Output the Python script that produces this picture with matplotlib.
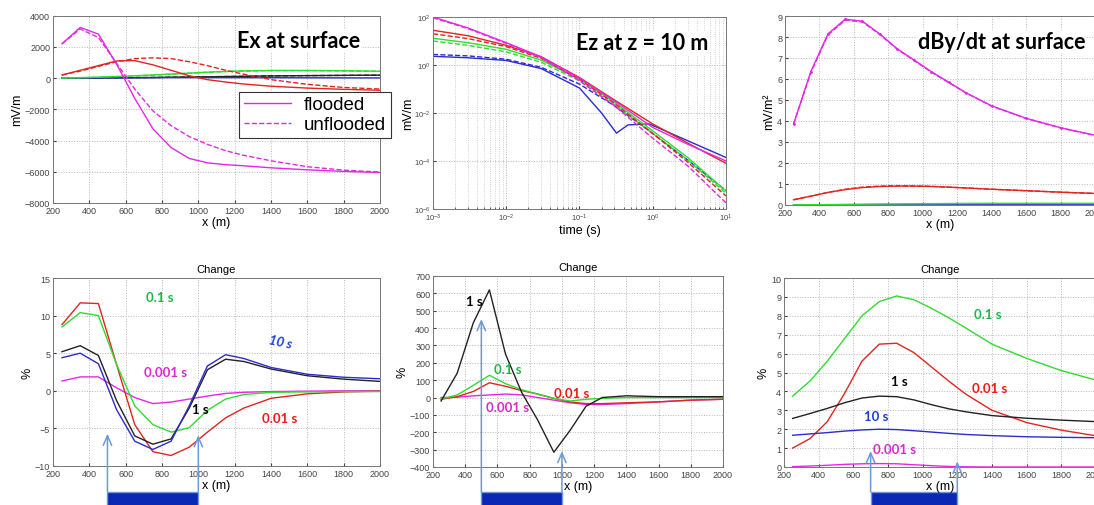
import matplotlib
matplotlib.use('Agg')
import matplotlib.pyplot as plt
from matplotlib.patches import Rectangle

plt.rcParams['font.family'] = ['Liberation Sans', 'DejaVu Sans']

# receiver offsets (m)
x_m = [250, 350, 450, 550, 650, 750, 850, 950, 1050, 1150, 1250, 1400, 1600, 1800, 2000]

# Ex at surface (mV/m), flooded / unflooded
ex_mag_fl = [2200, 3250, 2820, 900, -1300, -3250, -4450, -5150, -5430, -5550, -5620, -5750, -5880, -5980, -6050]
ex_mag_un = [2200, 3150, 2600, 950, -700, -2100, -3050, -3750, -4250, -4650, -4950, -5300, -5680, -5900, -6020]
ex_red_fl = [200, 500, 800, 1100, 1120, 850, 500, 150, -100, -250, -380, -520, -640, -720, -780]
ex_red_un = [200, 450, 750, 1050, 1250, 1300, 1250, 1050, 800, 500, 250, -100, -400, -600, -700]
ex_grn_fl = [10, 30, 60, 100, 150, 200, 260, 320, 380, 430, 460, 490, 490, 470, 440]
ex_grn_un = [10, 25, 55, 95, 140, 190, 250, 310, 370, 420, 450, 480, 480, 460, 430]
ex_blu = [0, 5, 10, 15, 20, 25, 30, 30, 30, 30, 30, 25, 20, 15, 10]
ex_blk = [0, 5, 10, 20, 30, 40, 55, 70, 85, 100, 115, 140, 160, 175, 190]

# Ez at z = 10 m vs time (mV/m)
t_s = [1e-3, 3e-3, 1e-2, 3e-2, 0.1, 0.3, 1, 3, 10]
ez_mag_fl = [100, 35, 8.5, 2.2, 0.28, 0.032, 2.5e-3, 5e-4, 1e-4]
ez_mag_un = [93, 33, 7.9, 2.0, 0.22, 0.02, 8.9e-4, 6.3e-5, 1.8e-6]
ez_red_fl = [28, 16.6, 6.6, 2.2, 0.30, 0.035, 3.5e-3, 5.6e-4, 8e-5]
ez_red_un = [20, 12.6, 5.8, 1.9, 0.25, 0.025, 1.4e-3, 9e-5, 3.5e-6]
ez_grn_fl = [13, 8.5, 4.5, 1.6, 0.26, 0.028, 1.8e-3, 1.4e-4, 5.6e-6]
ez_grn_un = [10, 6.6, 3.5, 1.3, 0.22, 0.022, 1.4e-3, 1.1e-4, 4.5e-6]
ez_blu_un = [2.75, 2.4, 1.74, 0.8, 0.16, 0.02, 1.4e-3, 1.1e-4, 5.8e-6]
t_blu = [1e-3, 3e-3, 1e-2, 3e-2, 0.1, 0.2, 0.32, 0.46, 0.9, 3, 10]
ez_blu_fl = [2.3, 2.0, 1.55, 0.71, 0.11, 0.01, 1.45e-3, 3.2e-3, 3.5e-3, 7e-4, 1.4e-4]

# dBy/dt at surface
db_mag_fl = [3.85, 6.35, 8.15, 8.85, 8.75, 8.15, 7.45, 6.9, 6.35, 5.85, 5.35, 4.72, 4.13, 3.68, 3.32]
db_mag_un = [3.85, 6.3, 8.1, 8.8, 8.72, 8.12, 7.43, 6.88, 6.33, 5.83, 5.34, 4.71, 4.12, 3.67, 3.31]
db_red_fl = [0.25, 0.42, 0.6, 0.73, 0.83, 0.88, 0.9, 0.9, 0.88, 0.85, 0.81, 0.75, 0.68, 0.61, 0.55]
db_red_un = [0.25, 0.42, 0.6, 0.75, 0.85, 0.9, 0.92, 0.91, 0.89, 0.85, 0.81, 0.75, 0.68, 0.61, 0.55]
db_grn = [0.01, 0.015, 0.02, 0.03, 0.04, 0.05, 0.055, 0.06, 0.065, 0.07, 0.075, 0.08, 0.08, 0.08, 0.08]
db_blu = [0.005, 0.005, 0.006, 0.006, 0.007, 0.007, 0.008, 0.008, 0.008, 0.008, 0.008, 0.008, 0.008, 0.008, 0.008]

# percent change, Ex
chx_001 = [1.3, 1.85, 1.85, 0.4, -0.9, -1.7, -1.5, -1.1, -0.7, -0.35, -0.2, -0.1, -0.05, 0.0, 0.0]
chx_01 = [8.8, 11.7, 11.6, 3.5, -4.5, -8.1, -8.6, -7.5, -5.5, -3.6, -2.3, -1.0, -0.4, -0.15, -0.05]
chx_1 = [8.5, 10.4, 10.0, 3.5, -2.0, -4.5, -5.5, -4.9, -2.6, -1.1, -0.5, -0.2, -0.15, -0.1, -0.1]
chx_10 = [5.2, 6.0, 4.7, -1.3, -6.0, -7.1, -6.4, -2.3, 2.8, 4.2, 3.9, 2.9, 2.0, 1.55, 1.25]
chx_100 = [4.4, 5.0, 3.6, -2.5, -6.7, -7.8, -6.7, -2.0, 3.3, 4.8, 4.3, 3.1, 2.2, 1.8, 1.6]

# percent change, Ez
chz_001 = [0, 2, 10, 15, 20, 15, 0, -15, -30, -40, -40, -35, -25, -15, -10]
chz_01 = [-10, 5, 35, 85, 65, 40, 20, -5, -25, -35, -35, -30, -25, -15, -10]
chz_1 = [-10, 15, 70, 128, 80, 45, 20, -5, -20, -10, -5, 0, 0, 0, 0]
chz_10 = [-20, 140, 430, 620, 250, 30, -130, -315, -190, -50, 0, 10, 5, 5, 5]

# percent change, dBy/dt
chb_001 = [0.02, 0.05, 0.09, 0.14, 0.17, 0.18, 0.17, 0.12, 0.07, 0.03, 0.01, 0.0, 0.0, 0.0, 0.0]
chb_01 = [1.0, 1.5, 2.4, 3.9, 5.6, 6.5, 6.55, 6.05, 5.3, 4.55, 3.85, 3.0, 2.35, 1.95, 1.65]
chb_1 = [3.75, 4.55, 5.6, 6.8, 8.0, 8.75, 9.05, 8.85, 8.4, 7.9, 7.35, 6.5, 5.75, 5.1, 4.6]
chb_10 = [2.57, 2.83, 3.1, 3.4, 3.65, 3.75, 3.72, 3.55, 3.3, 3.08, 2.92, 2.72, 2.58, 2.48, 2.4]
chb_100 = [1.68, 1.75, 1.82, 1.9, 1.96, 2.0, 1.98, 1.92, 1.85, 1.78, 1.72, 1.66, 1.6, 1.57, 1.55]

# reservoir edges (m) marked under each change plot
zone_x = [500, 1000]
zone_x_db = [700, 1200]

MAG = '#e626e6'
RED = '#e3241f'
GRN = '#30dc30'
BLU = '#2b2bcf'
BLK = '#222222'
ARR = '#6f98d8'
BOX = '#0a28b4'
LW = 1.0


def style(ax):
    ax.grid(True, which='major', linestyle=':', color='#b8b8b8', linewidth=0.7)
    ax.tick_params(direction='in', labelsize=6.5, length=2.5, colors='#444444', pad=2)
    for s in ax.spines.values():
        s.set_color('#777777')
        s.set_linewidth(0.7)


def big_title(ax, xr, txt):
    ax.text(xr, 0.865, txt, transform=ax.transAxes, ha='right', va='center',
            family='Lato', weight='bold', fontsize=15.5, color='black',
            bbox=dict(facecolor='white', edgecolor='none', pad=1))


def lbl(ax, x, y, txt, c, **kw):
    ax.text(x, y, txt, color=c, family='Lato', weight='bold', fontsize=9.5,
            ha='center', va='center', **kw)


def zone(ax, xs, tips, yfrac):
    ax.add_patch(Rectangle((xs[0], yfrac - 0.2), xs[1] - xs[0], 0.2, transform=ax.get_xaxis_transform(),
                           facecolor=BOX, edgecolor=ARR, lw=1.0, clip_on=False))
    for xv, tip in zip(xs, tips):
        ax.annotate('', xy=(xv, tip), xycoords='data', xytext=(xv, yfrac), textcoords=('data', 'axes fraction'),
                    arrowprops=dict(arrowstyle='->,head_length=0.7,head_width=0.3', color=ARR, lw=1.1,
                                    shrinkA=0, shrinkB=0), annotation_clip=False)


fig = plt.figure(figsize=(10.94, 5.06), dpi=100)

# ---- Ex at surface ----
ax1 = fig.add_axes([0.0484, 0.597, 0.299, 0.370])
ax1.plot(x_m, ex_blk, color=BLK, lw=LW)
ax1.plot(x_m, ex_blk, color=BLK, lw=LW, ls='--')
ax1.plot(x_m, ex_blu, color=BLU, lw=LW)
ax1.plot(x_m, ex_grn_fl, color=GRN, lw=LW)
ax1.plot(x_m, ex_grn_un, color=GRN, lw=LW, ls='--')
ax1.plot(x_m, ex_red_fl, color=RED, lw=LW)
ax1.plot(x_m, ex_red_un, color=RED, lw=LW, ls='--')
h1, = ax1.plot(x_m, ex_mag_fl, color=MAG, lw=LW)
h2, = ax1.plot(x_m, ex_mag_un, color=MAG, lw=LW, ls='--')
ax1.set_xlim(200, 2000)
ax1.set_ylim(-8000, 4000)
ax1.set_xticks(range(200, 2001, 200))
ax1.set_yticks(range(-8000, 4001, 2000))
ax1.set_xlabel('x (m)', fontsize=9, labelpad=1)
ax1.set_ylabel('mV/m', fontsize=9, labelpad=1)
style(ax1)
big_title(ax1, 0.94, 'Ex at surface')
leg = ax1.legend([h1, h2], ['flooded', 'unflooded'], loc='lower left',
                 bbox_to_anchor=(239 / 1094, 1 - 139 / 506), bbox_transform=fig.transFigure,
                 borderaxespad=0, fontsize=13.5, handlelength=2.5, fancybox=False, framealpha=1,
                 edgecolor='#333333', borderpad=0.25, labelspacing=0.15, handletextpad=0.7)
leg.get_frame().set_linewidth(0.8)

# ---- Ez vs time ----
ax2 = fig.add_axes([0.3958, 0.585, 0.2678, 0.3794])
ax2.loglog(t_blu, ez_blu_fl, color=BLU, lw=LW)
ax2.loglog(t_s, ez_blu_un, color=BLU, lw=LW, ls='--')
ax2.loglog(t_s, ez_grn_fl, color=GRN, lw=LW)
ax2.loglog(t_s, ez_grn_un, color=GRN, lw=LW, ls='--')
ax2.loglog(t_s, ez_red_fl, color=RED, lw=LW)
ax2.loglog(t_s, ez_red_un, color=RED, lw=LW, ls='--')
ax2.loglog(t_s, ez_mag_fl, color=MAG, lw=LW)
ax2.loglog(t_s, ez_mag_un, color=MAG, lw=LW, ls='--')
ax2.set_xlim(1e-3, 10)
ax2.set_ylim(1e-6, 1e2)
ax2.set_yticks([1e-6, 1e-4, 1e-2, 1e0, 1e2])
ax2.yaxis.set_minor_locator(matplotlib.ticker.NullLocator())
ax2.set_xlabel('time (s)', fontsize=9, labelpad=1)
ax2.set_ylabel('mV/m', fontsize=9, labelpad=0)
style(ax2)
ax2.grid(True, which='minor', axis='x', linestyle=':', color='#c4c4c4', linewidth=0.6)
ax2.tick_params(which='minor', direction='in', length=1.5, colors='#444444')
ax2.tick_params(labelsize=5.5)
big_title(ax2, 0.94, 'Ez at z = 10 m')

# ---- dBy/dt ----
ax3 = fig.add_axes([0.7175, 0.5929, 0.2834, 0.3735])
ax3.plot(x_m, db_blu, color=BLU, lw=LW)
ax3.plot(x_m, db_grn, color=GRN, lw=LW)
ax3.plot(x_m, db_red_fl, color=RED, lw=LW)
ax3.plot(x_m, db_red_un, color=RED, lw=LW, ls='--')
ax3.plot(x_m, db_mag_fl, color=MAG, lw=LW, marker='.', ms=2)
ax3.plot(x_m, db_mag_un, color=MAG, lw=LW, ls='--')
ax3.set_xlim(200, 2000)
ax3.set_ylim(0, 9)
ax3.set_xticks(range(200, 2001, 200))
ax3.set_yticks(range(0, 10))
ax3.set_xlabel('x (m)', fontsize=9, labelpad=1)
ax3.set_ylabel('mV/m²', fontsize=9, labelpad=1)
style(ax3)
big_title(ax3, 0.968, 'dBy/dt at surface')

# ---- change plots ----
ax4 = fig.add_axes([0.0484, 0.0771, 0.299, 0.3715])
ax4.plot(x_m, chx_001, color=MAG, lw=LW)
ax4.plot(x_m, chx_01, color=RED, lw=LW)
ax4.plot(x_m, chx_1, color=GRN, lw=LW)
ax4.plot(x_m, chx_10, color=BLK, lw=LW)
ax4.plot(x_m, chx_100, color=BLU, lw=LW)
ax4.set_xlim(200, 2000)
ax4.set_ylim(-10, 15)
ax4.set_xticks(range(200, 2001, 200))
ax4.set_yticks(range(-10, 16, 5))
ax4.set_xlabel('x (m)', fontsize=9, labelpad=1)
ax4.set_ylabel('%', fontsize=9, labelpad=1)
ax4.set_title('Change', fontsize=8, pad=4)
style(ax4)
lbl(ax4, 790, 12.5, '0.1 s', '#1db84a')
lbl(ax4, 1450, 6.6, '10 s', '#2040d0', style='italic', rotation=-12)
lbl(ax4, 820, 2.5, '0.001 s', '#d82ad0')
lbl(ax4, 1010, -2.4, '1 s', 'black')
lbl(ax4, 1445, -3.6, '0.01 s', '#f01818')
zone(ax4, zone_x, [-5.7, -5.9], -0.138)

ax5 = fig.add_axes([0.3958, 0.0751, 0.2651, 0.3775])
ax5.plot(x_m, chz_001, color=MAG, lw=LW)
ax5.plot(x_m, chz_01, color=RED, lw=LW)
ax5.plot(x_m, chz_1, color=GRN, lw=LW)
ax5.plot(x_m, chz_10, color=BLK, lw=LW)
ax5.set_xlim(200, 2000)
ax5.set_ylim(-400, 700)
ax5.set_xticks(range(200, 2001, 200))
ax5.set_yticks(range(-400, 701, 100))
ax5.set_xlabel('x (m)', fontsize=9, labelpad=1)
ax5.set_ylabel('%', fontsize=9, labelpad=1)
ax5.set_title('Change', fontsize=8, pad=4)
style(ax5)
lbl(ax5, 455, 556, '1 s', 'black')
lbl(ax5, 666, 164, '0.1 s', '#1db84a')
lbl(ax5, 1063, 26, '0.01 s', '#f01818')
lbl(ax5, 660, -55, '0.001 s', '#d82ad0')
zone(ax5, zone_x, [452, -308], -0.131)

ax6 = fig.add_axes([0.7166, 0.0751, 0.2852, 0.3735])
ax6.plot(x_m, chb_001, color=MAG, lw=LW)
ax6.plot(x_m, chb_01, color=RED, lw=LW)
ax6.plot(x_m, chb_1, color=GRN, lw=LW)
ax6.plot(x_m, chb_10, color=BLK, lw=LW)
ax6.plot(x_m, chb_100, color=BLU, lw=LW)
ax6.set_xlim(200, 2000)
ax6.set_ylim(0, 10)
ax6.set_xticks(range(200, 2001, 200))
ax6.set_yticks(range(0, 11))
ax6.set_xlabel('x (m)', fontsize=9, labelpad=1)
ax6.set_ylabel('%', fontsize=9, labelpad=1)
ax6.set_title('Change', fontsize=8, pad=4)
style(ax6)
lbl(ax6, 1376, 8.1, '0.1 s', '#1db84a')
lbl(ax6, 1387, 4.2, '0.01 s', '#f01818')
lbl(ax6, 863, 4.55, '1 s', 'black')
lbl(ax6, 730, 2.7, '10 s', '#2040d0')
lbl(ax6, 840, 0.95, '0.001 s', '#d82ad0')
zone(ax6, zone_x_db, [0.85, 0.3], -0.132)

fig.savefig('out.png', dpi=100)
